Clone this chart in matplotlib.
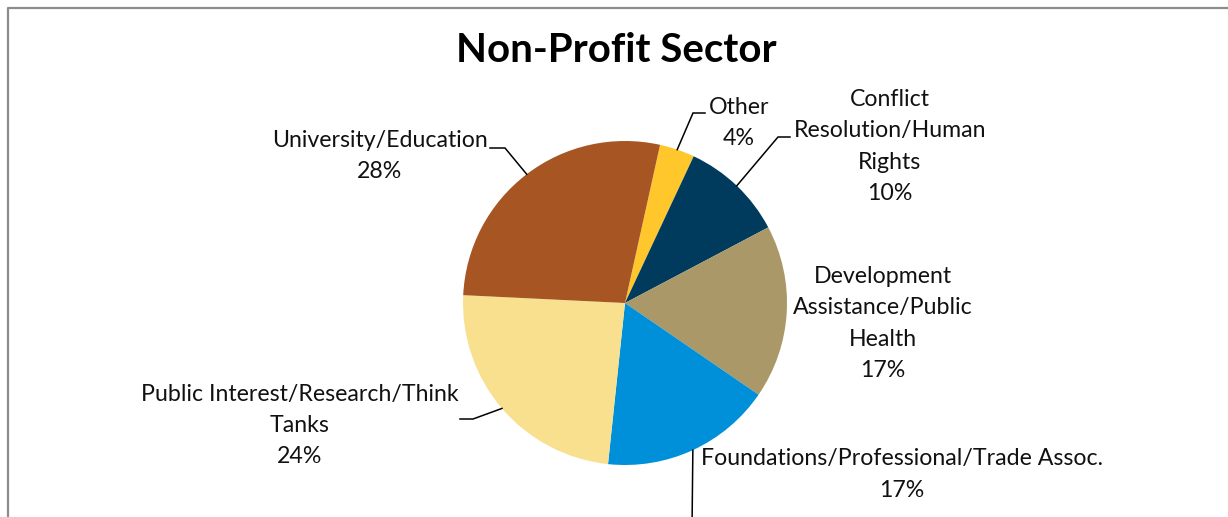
import numpy as np
import matplotlib.pyplot as plt

plt.rcParams['font.family'] = ['Lato', 'DejaVu Sans']

# data
sectors = ['Other', 'Conflict\nResolution/Human\nRights', 'Development\nAssistance/Public\nHealth',
           'Foundations/Professional/Trade Assoc.', 'Public Interest/Research/Think\nTanks',
           'University/Education']
shares = [3.5, 10.3, 17.3, 17.1, 24.1, 27.7]
colors = ['#FFC72C', '#003A5D', '#AA9868', '#0090DA', '#F8E08E', '#A65523']

# layout (pixel coords, y measured from top)
W, H = 1228, 517
cx, cy, rad = 625, 303, 162
label_pos = [(739, 123), (890, 146.5), (883, 323.5), (902, 474.5), (300, 425.5), (380, 156)]
# elbow and end of leader lines (None = no leader)
leaders = [((693, 113), (705, 113)),
           ((778, 137), (790, 137)),
           None,
           ((692, 530), (692, 530)),
           ((473, 419), (460, 419)),
           ((505, 148), (490, 148))]

fig = plt.figure(figsize=(W / 100, H / 100), dpi=100)
ax = fig.add_axes([0, 0, 1, 1])

wedges, _ = ax.pie(shares, colors=colors, startangle=77.5, counterclock=False,
                   center=(cx, H - cy), radius=rad, wedgeprops=dict(linewidth=0))
ax.set_xlim(0, W)
ax.set_ylim(0, H)
ax.set_aspect('equal')
ax.axis('off')

for w, name, val, (lx, ly), ld in zip(wedges, sectors, shares, label_pos, leaders):
    ax.text(lx, H - ly, f'{name}\n{round(val)}%', ha='center', va='center',
            fontsize=16.7, linespacing=1.6, color='#111111')
    if ld is None:
        continue
    mid = np.radians((w.theta1 + w.theta2) / 2)
    ax_x = cx + rad * np.cos(mid)
    ax_y = (H - cy) + rad * np.sin(mid)
    (ex, ey), (tx, ty) = ld
    ax.plot([ax_x, ex, tx], [ax_y, H - ey, H - ty], color='black', lw=1.1,
            solid_joinstyle='miter', clip_on=True)

ax.text(W / 2 + 2, H - 51, 'Non-Profit Sector', ha='center', va='center',
        fontsize=29, fontweight='bold', color='black')

# chart frame (cropped at right and bottom)
ax.plot([7.5, 7.5, W + 5], [-5, H - 7.5, H - 7.5], color='#8c8c8c', lw=1.6)

fig.savefig('out.png', dpi=100)
